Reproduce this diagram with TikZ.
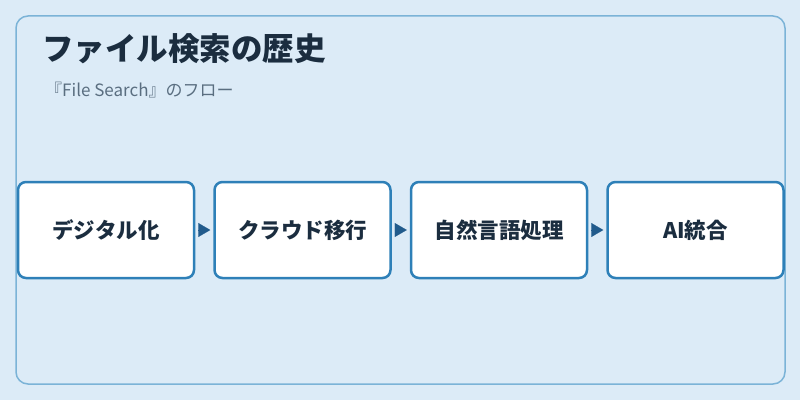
\documentclass[tikz,border=0pt]{standalone}
\usepackage{fontspec}
\newfontfamily\jpfont{Noto Sans CJK JP}
\usetikzlibrary{positioning,arrows.meta}
\definecolor{bgblue}{HTML}{DCEBF7}
\definecolor{framblue}{HTML}{7BB3D7}
\definecolor{boxblue}{HTML}{2E80B8}
\definecolor{arrblue}{HTML}{215B8C}
\definecolor{inkdark}{HTML}{1B2D3F}
\definecolor{inkgray}{HTML}{5A6E80}
\tikzset{
  stagebox/.style={draw=boxblue,line width=2.5pt,fill=white,rounded corners=8pt,
    minimum width=176pt,minimum height=96pt,inner sep=0pt,
    font=\jpfont\bfseries\fontsize{21.5}{24}\selectfont,text=inkdark},
  flow/.style={arrblue,line width=0.1pt,-{Triangle[length=12pt,width=14pt]},
    shorten <=3pt,shorten >=3pt}
}

\begin{document}
\begin{tikzpicture}[x=1pt,y=1pt]
\useasboundingbox[fill=bgblue] (0,0) rectangle (800,400);
\draw[framblue,line width=1.5pt,rounded corners=12pt] (16,16) rectangle (785,384);
\node[anchor=base west,inner sep=0pt,text=inkdark,
  font=\jpfont\bfseries\fontsize{31.5}{36}\selectfont] (title) at (42,340) {ファイル検索の歴史};
\node[anchor=base west,inner sep=0pt,text=inkgray,
  font=\jpfont\fontsize{17}{20}\selectfont] (sub) at (45,304) {『File Search』のフロー};
% stages
\node[stagebox] (dig) at (106,170) {デジタル化};
\node[stagebox,right=18pt of dig] (cloud) {クラウド移行};
\node[stagebox,right=18pt of cloud] (nlp) {自然言語処理};
\node[stagebox,right=18pt of nlp] (ai) {AI統合};
\draw[flow] (dig) -- (cloud);
\draw[flow] (cloud) -- (nlp);
\draw[flow] (nlp) -- (ai);
\end{tikzpicture}
\end{document}
